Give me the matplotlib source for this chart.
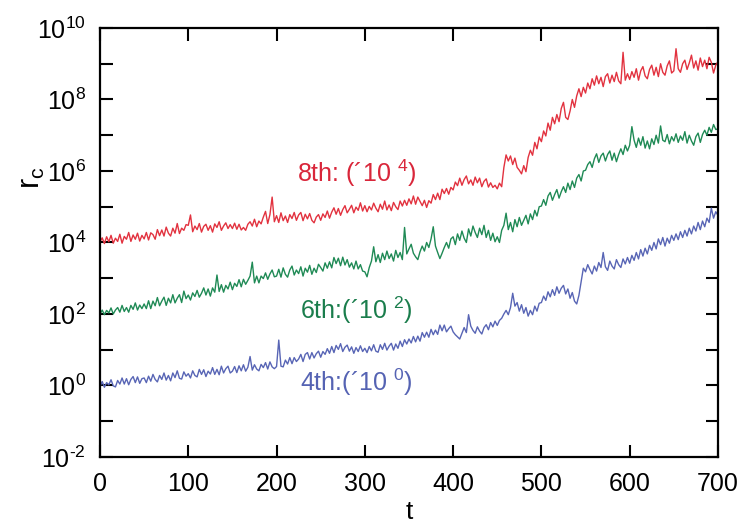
import numpy as np
import matplotlib
matplotlib.use("Agg")
import matplotlib.pyplot as plt
from matplotlib.ticker import FixedLocator, FuncFormatter

plt.rcParams["font.family"] = ["Liberation Sans", "DejaVu Sans"]
plt.rcParams["mathtext.fontset"] = "custom"
plt.rcParams["mathtext.rm"] = "Liberation Sans"
plt.rcParams["mathtext.it"] = "Liberation Sans:italic"
plt.rcParams["mathtext.bf"] = "Liberation Sans:bold"

# time axis: one sample every 2.5 time units, 0 ... 700
t_step = 2.5
n_samples = 281

# log10 of the unscaled r_c for each order (before the display offset)
log_rc_8th = [
    0.02, 0.13, -0.03, 0.16, 0.02, 0.20, -0.02, 0.12, 0.03, 0.23, -0.02, 0.17, 0.09, 0.28, 0.03, 0.21, 0.09, 0.26, 0.04, 0.20,
    0.10, 0.28, 0.07, 0.27, 0.22, 0.09, 0.36, 0.19, 0.35, 0.18, 0.43, 0.26, 0.18, 0.40, 0.26, 0.53, 0.25, 0.40, 0.34, 0.50,
    0.48, 0.77, 0.30, 0.46, 0.36, 0.53, 0.29, 0.45, 0.51, 0.34, 0.47, 0.29, 0.52, 0.42, 0.58, 0.34, 0.46, 0.55, 0.39, 0.50,
    0.39, 0.54, 0.37, 0.51, 0.35, 0.42, 0.34, 0.51, 0.58, 0.46, 0.65, 0.44, 0.60, 0.52, 0.71, 0.87, 0.53, 0.78, 1.27, 0.58,
    0.75, 0.56, 0.83, 0.61, 0.74, 0.56, 0.78, 0.67, 0.84, 0.62, 0.77, 0.84, 0.61, 0.79, 0.66, 0.81, 0.62, 0.55, 0.71, 0.78,
    0.62, 0.80, 0.70, 0.88, 0.68, 0.85, 0.97, 0.79, 0.95, 0.76, 0.92, 1.03, 0.83, 0.93, 1.04, 0.83, 0.99, 0.90, 1.11, 0.88,
    1.03, 0.86, 1.01, 0.91, 1.10, 0.96, 0.86, 1.07, 0.93, 1.16, 0.91, 1.05, 0.89, 1.12, 1.00, 0.92, 1.16, 1.02, 1.18, 1.04,
    1.22, 1.08, 1.30, 1.07, 1.27, 1.15, 1.03, 1.18, 0.98, 1.17, 1.10, 1.34, 1.20, 1.38, 1.20, 1.49, 1.37, 1.51, 1.35, 1.54,
    1.47, 1.69, 1.59, 1.80, 1.60, 1.76, 1.86, 1.64, 1.75, 1.60, 1.83, 1.67, 1.80, 1.56, 1.71, 1.78, 1.55, 1.67, 1.54, 1.60,
    1.50, 1.66, 1.56, 2.10, 2.45, 2.28, 2.42, 2.18, 2.36, 2.10, 2.02, 1.92, 2.15, 1.98, 2.38, 2.58, 2.44, 2.80, 2.62, 2.95,
    2.82, 3.12, 2.98, 3.34, 3.14, 3.50, 3.32, 3.58, 3.38, 3.75, 3.92, 3.50, 3.44, 3.68, 4.00, 3.78, 4.10, 4.30, 4.08, 4.34,
    4.18, 4.46, 4.30, 4.58, 4.40, 4.66, 4.44, 4.62, 4.36, 4.64, 4.72, 4.46, 4.68, 4.50, 4.76, 4.52, 4.44, 5.32, 4.54, 4.72,
    4.56, 4.78, 4.62, 4.86, 4.54, 4.80, 4.92, 4.66, 4.58, 4.84, 4.96, 4.68, 4.90, 4.64, 5.00, 4.76, 4.68, 4.94, 5.08, 4.74,
    4.80, 5.42, 4.86, 4.76, 5.00, 5.10, 4.84, 5.02, 5.24, 4.88, 5.08, 4.82, 5.16, 4.92, 5.10, 4.86, 5.18, 5.04, 4.74, 4.96,
    5.06,
]

log_rc_6th = [
    -0.01, 0.11, -0.02, 0.10, 0.03, 0.17, 0.00, 0.11, 0.18, 0.05, 0.24, 0.07, 0.18, 0.05, 0.24, 0.13, 0.31, 0.11, 0.25, 0.15,
    0.28, 0.15, 0.37, 0.15, 0.36, 0.23, 0.46, 0.23, 0.36, 0.47, 0.24, 0.44, 0.31, 0.54, 0.31, 0.44, 0.54, 0.32, 0.64, 0.43,
    0.53, 0.39, 0.59, 0.49, 0.66, 0.47, 0.58, 0.73, 0.53, 0.70, 0.50, 0.73, 0.61, 1.09, 0.63, 0.82, 0.61, 0.80, 0.70, 0.89,
    0.68, 0.86, 0.77, 0.96, 0.76, 0.97, 0.83, 0.94, 1.06, 1.45, 0.87, 1.06, 0.87, 1.06, 0.99, 1.15, 0.97, 1.12, 1.23, 1.04,
    1.06, 1.25, 1.03, 1.29, 1.11, 1.03, 1.23, 1.34, 1.09, 1.23, 1.13, 1.32, 1.06, 1.28, 1.17, 1.36, 1.11, 1.28, 1.16, 1.39,
    1.30, 1.20, 1.43, 1.28, 1.46, 1.29, 1.58, 1.41, 1.56, 1.35, 1.59, 1.37, 1.52, 1.31, 1.43, 1.26, 1.48, 1.26, 1.38, 1.20,
    1.18, 1.04, 1.30, 1.48, 1.88, 1.46, 1.66, 1.44, 1.70, 1.52, 1.76, 1.55, 1.68, 1.48, 1.78, 1.58, 1.72, 1.52, 2.42, 1.68,
    1.82, 1.95, 1.70, 1.60, 1.52, 1.74, 1.90, 1.76, 2.00, 1.86, 2.10, 2.44, 1.90, 1.72, 1.55, 1.70, 1.86, 2.00, 1.84, 2.10,
    2.16, 1.94, 2.24, 2.06, 2.32, 2.12, 2.00, 2.38, 2.18, 2.46, 2.28, 2.14, 2.40, 2.22, 2.48, 2.14, 2.34, 2.06, 2.26, 2.02,
    2.16, 2.00, 2.34, 2.48, 2.82, 2.36, 2.56, 2.30, 2.64, 2.44, 2.70, 2.48, 2.62, 2.76, 2.52, 2.80, 2.64, 2.90, 2.74, 3.00,
    3.02, 3.20, 3.04, 3.30, 3.40, 3.18, 3.34, 3.48, 3.24, 3.42, 3.56, 3.40, 3.66, 3.48, 3.72, 3.54, 3.80, 3.90, 3.72, 4.00,
    4.02, 4.18, 4.26, 4.10, 4.34, 4.48, 4.24, 4.42, 4.50, 4.28, 4.46, 4.56, 4.30, 4.50, 4.26, 4.46, 4.62, 4.46, 4.72, 4.56,
    4.72, 5.24, 4.86, 4.66, 4.92, 4.72, 4.96, 4.64, 4.84, 4.62, 4.90, 4.74, 5.00, 4.78, 5.26, 4.86, 4.82, 5.02, 4.76, 4.96,
    4.84, 5.04, 4.80, 4.98, 4.86, 5.10, 4.78, 5.00, 4.84, 4.72, 4.96, 5.06, 4.80, 5.02, 5.14, 5.00, 5.22, 5.08, 5.30, 5.16,
    5.18,
]

log_rc_4th = [
    -0.03, 0.11, -0.05, 0.08, 0.02, 0.16, -0.01, -0.04, 0.14, 0.04, 0.21, 0.04, 0.19, 0.02, 0.17, 0.25, 0.08, 0.24, 0.06, 0.19,
    0.21, 0.08, 0.26, 0.12, 0.31, 0.17, 0.10, 0.28, 0.17, 0.35, 0.15, 0.28, 0.13, 0.35, 0.22, 0.41, 0.20, 0.18, 0.38, 0.26,
    0.33, 0.21, 0.41, 0.28, 0.24, 0.45, 0.31, 0.44, 0.25, 0.40, 0.32, 0.50, 0.31, 0.45, 0.30, 0.54, 0.35, 0.47, 0.54, 0.35,
    0.40, 0.53, 0.36, 0.55, 0.41, 0.58, 0.40, 0.51, 0.81, 0.43, 0.58, 0.46, 0.41, 0.59, 0.50, 0.64, 0.46, 0.66, 0.52, 0.47,
    0.53, 1.27, 0.54, 0.52, 0.71, 0.60, 0.78, 0.61, 0.78, 0.67, 0.74, 0.87, 0.67, 0.87, 0.92, 0.74, 0.92, 0.77, 0.89, 0.96,
    0.79, 0.95, 0.87, 1.03, 0.90, 1.09, 0.92, 1.12, 1.01, 1.17, 0.95, 1.07, 1.13, 0.96, 1.08, 0.90, 1.06, 0.95, 1.11, 0.95,
    1.04, 0.92, 1.09, 0.97, 1.14, 0.96, 0.93, 1.14, 1.01, 1.18, 0.99, 1.10, 1.18, 0.99, 1.16, 1.04, 1.24, 1.09, 1.28, 1.16,
    1.30, 1.19, 1.37, 1.22, 1.38, 1.24, 1.48, 1.35, 1.49, 1.35, 1.57, 1.42, 1.55, 1.43, 1.69, 1.53, 1.69, 1.50, 1.59, 1.66,
    1.50, 1.42, 1.36, 1.30, 1.46, 1.62, 1.48, 1.98, 1.66, 1.54, 1.46, 1.64, 1.52, 1.44, 1.62, 1.70, 1.56, 1.76, 1.64, 1.80,
    1.68, 1.82, 1.88, 2.00, 2.10, 1.98, 2.18, 2.58, 2.22, 2.32, 2.08, 2.26, 2.02, 2.18, 1.94, 2.10, 1.98, 2.22, 2.08, 2.30,
    2.32, 2.50, 2.38, 2.62, 2.48, 2.68, 2.52, 2.76, 2.58, 2.72, 2.80, 2.56, 2.70, 2.44, 2.60, 2.36, 2.28, 2.52, 2.90, 3.28,
    3.18, 3.38, 3.24, 3.12, 3.34, 3.20, 3.44, 3.30, 3.72, 3.32, 3.22, 3.48, 3.34, 3.26, 3.52, 3.38, 3.30, 3.54, 3.40, 3.58,
    3.42, 3.64, 3.50, 3.72, 3.54, 3.80, 3.62, 3.84, 3.68, 3.92, 3.78, 4.00, 3.82, 4.10, 3.94, 4.14, 3.90, 4.12, 3.98, 4.20,
    4.06, 4.24, 4.08, 4.30, 4.14, 4.34, 4.18, 4.40, 4.24, 4.46, 4.32, 4.56, 4.36, 4.60, 4.44, 4.68, 4.56, 4.96, 4.68, 4.86,
    4.76,
]

offset_exponents = [4, 2, 0]
label_texts = ["8th: (´10 $^{4}$)", "6th:(´10 $^{2}$)", "4th:(´10 $^{0}$)"]
label_positions = [(223, 5.94), (226, 2.11), (226, 0.10)]
line_colors = ["#e2323f", "#1f8a55", "#5865b5"]
text_colors = ["#d9263a", "#1a7d4c", "#5563b3"]

t = np.arange(n_samples) * t_step
series = [log_rc_8th, log_rc_6th, log_rc_4th]

fig = plt.figure(figsize=(7.44, 5.24), dpi=100)
ax = fig.add_axes([0.1344, 0.1279, 0.8306, 0.8187])

for logs, exp, col in zip(series, offset_exponents, line_colors):
    ax.plot(t, 10.0 ** (np.asarray(logs) + exp), color=col, lw=1.0)

for txt, (tx, ly), col in zip(label_texts, label_positions, text_colors):
    ax.text(tx, 10.0 ** ly, txt, color=col, fontsize=18, va="center", ha="left")


def decade_label(v, pos):
    k = int(round(np.log10(v)))
    if k < 0:
        return r"$10^{\text{-}%d}$" % (-k)
    return r"$10^{%d}$" % k


ax.set_yscale("log")
ax.set_xlim(0, 700)
ax.set_ylim(1e-2, 1e10)

ax.xaxis.set_major_locator(FixedLocator(np.arange(0, 701, 100)))
ax.yaxis.set_major_locator(FixedLocator([10.0 ** k for k in range(-2, 11, 2)]))
ax.yaxis.set_minor_locator(FixedLocator([10.0 ** k for k in range(-1, 10, 2)]))
ax.yaxis.set_major_formatter(FuncFormatter(decade_label))
ax.yaxis.set_minor_formatter(FuncFormatter(lambda v, p: ""))

ax.tick_params(axis="both", which="both", direction="in", top=True, right=True,
               length=9, width=1.5, labelsize=18, pad=10)
ax.tick_params(axis="x", pad=11)
for sp in ax.spines.values():
    sp.set_linewidth(1.6)

ax.set_xlabel("t", fontsize=19, labelpad=3)
ax.set_ylabel(r"r$_\mathregular{c}$", fontsize=22)
ax.yaxis.set_label_coords(-0.085, 0.65)

fig.savefig("out.png", dpi=100)
